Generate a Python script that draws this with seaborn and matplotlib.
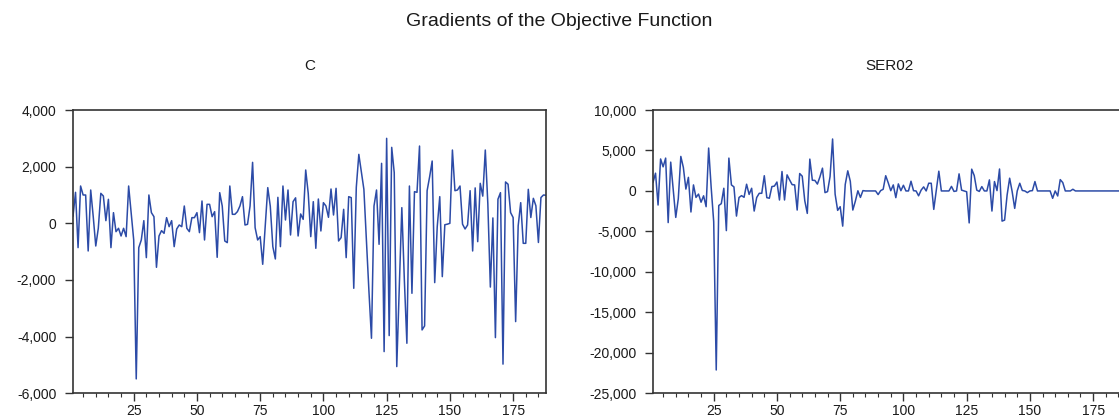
import matplotlib
matplotlib.use("Agg")
import numpy as np
import pandas as pd
import seaborn as sns
import matplotlib.pyplot as plt
from matplotlib.ticker import FixedLocator, FuncFormatter

# ---------------- data ----------------
obs = list(range(1, 189))

grad_c = [
    250, 1094, -858, 1317, 1000, 1000, -976, 1176, 235, -800,
    -176, 1058, 964, 94, 847, -858, 376, -294, -176, -447,
    -176, -470, 1317, 353, -588, -5492, -858, -588, 94, -1211,
    1000, 376, 235, -1552, -447, -259, -353, 200, -118, 94,
    -823, -200, -59, -118, 611, -176, -294, 200, 200, 376,
    -329, 788, -588, 670, 670, 235, 412, -1200, 1082, 611,
    -623, -682, 1317, 318, 318, 412, 611, 941, -59, -35,
    611, 2152, -153, -588, -470, -1446, -100, 1260, 600, -823,
    -1258, 917, -823, 1317, 118, 1176, -412, 764, 900, -447,
    330, 140, 1882, 1058, -470, 764, -882, 858, -270, 729,
    611, 212, 1211, 294, 1235, -623, -505, 494, -1211, 941,
    906, -2293, 1270, 2434, 1823, 1200, -600, -2400, -4057, 611,
    1176, -741, 2117, -4528, 3000, -3963, 2681, 1788, -5057, -2300,
    553, -2000, -4234, 1317, -2470, 1117, 1094, 2728, -3763, -3622,
    1152, 1646, 2199, -2093, -118, 941, -1882, -50, -30, 0,
    2587, 1152, 1176, 1317, -30, -200, -59, 1152, -976, 1250,
    -647, 1411, 960, 2587, 700, -2250, 190, -4034, 850, 1082,
    -4970, 1460, 1380, 380, 205, -3469, -90, 729, -706, -706,
    1200, 205, 882, 620, -676, 910, 1000, 990,
]

grad_ser02 = [
    1050, 2194, -1739, 3950, 2980, 4057, -3910, 3560, 124, -3270,
    -950, 4264, 2900, 230, 1680, -2600, 745, -800, -390, -1390,
    -600, -1946, 5299, 430, -3808, -22120, -1800, -1570, 331, -4900,
    4057, 745, 500, -3105, -808, -580, -787, 828, -430, 331,
    -2484, -808, -290, -290, 1880, -828, -900, 538, 600, 1100,
    -1118, 2401, -1118, 1987, 1366, 780, 745, -2360, 2150, 1820,
    -1200, -2774, 3933, 1320, 1300, 850, 1740, 2815, -207, -83,
    1780, 6417, -400, -2400, -1946, -4347, 800, 2484, 1200, -2360,
    -1260, 20, -800, 40, 0, 0, 0, 0, 0, -450,
    40, 207, 1880, 1000, 30, 745, -828, 869, 30, 700,
    0, 0, 1200, 30, 0, -600, 100, 500, 0, 952,
    952, -2277, 124, 2440, 0, 0, 0, 0, 560, -60,
    0, 2111, 100, 0, -100, -3950, 2691, 1900, 100, -60,
    538, 0, 0, 1366, -2484, 1159, 40, 2710, -3726, -3602,
    -500, 1573, -100, -2153, 0, 952, 60, 0, -207, 0,
    40, 1159, 0, 0, 0, 0, 0, 0, -911, 0,
    -621, 1400, 1035, 0, 0, 0, 207, 0, 0, 0,
    0, 0, 0, 0, 0, 0, 0, 0, 0, 0,
    0, 0, 0, 0, 0, 0, 0, 0,
]

panel_titles = ["C", "SER02"]
x_major = [25, 50, 75, 100, 125, 150, 175]
x_minor = [5, 10, 15, 20, 30, 35, 40, 45, 55, 60, 65, 70, 80, 85, 90, 95,
           105, 110, 115, 120, 130, 135, 140, 145, 155, 160, 165, 170, 180, 185]
c_yticks = [-6000, -4000, -2000, 0, 2000, 4000]
ser_yticks = [-25000, -20000, -15000, -10000, -5000, 0, 5000, 10000]
main_title = "Gradients of the Objective Function"

# ---------------- style ----------------
sns.set_theme(style="white")
plt.rcParams["font.family"] = ["Liberation Sans", "DejaVu Sans"]

LINE = "#2c4ba7"
SPINE = "#333333"
TXT = "#1a1a1a"

W, H = 1119, 419
fig = plt.figure(figsize=(W / 100, H / 100), dpi=100)
fig.patch.set_facecolor("white")

ax_top, ax_bot = 110, 393.3
ax_w = 473
axes = [
    fig.add_axes([73 / W, 1 - ax_bot / H, ax_w / W, (ax_bot - ax_top) / H]),
    fig.add_axes([653 / W, 1 - ax_bot / H, ax_w / W, (ax_bot - ax_top) / H]),
]

df = pd.DataFrame({"obs": obs, "C": grad_c, "SER02": grad_ser02})

for ax, col, yt, ttl in zip(axes, ["C", "SER02"], [c_yticks, ser_yticks], panel_titles):
    sns.lineplot(data=df, x="obs", y=col, ax=ax, color=LINE, linewidth=1.1)
    ax.set_xlim(1, 188)
    ax.set_ylim(yt[0], yt[-1])
    ax.xaxis.set_major_locator(FixedLocator(x_major))
    ax.xaxis.set_minor_locator(FixedLocator(x_minor))
    ax.yaxis.set_major_locator(FixedLocator(yt))
    ax.yaxis.set_major_formatter(FuncFormatter(lambda v, p: f"{int(v):,}"))
    ax.set_xlabel("")
    ax.set_ylabel("")
    ax.tick_params(axis="x", which="major", direction="out", length=6, width=1,
                   color=SPINE, labelsize=10, labelcolor=TXT, pad=2, bottom=True)
    ax.tick_params(axis="x", which="minor", direction="out", length=3, width=0.8,
                   color=SPINE, bottom=True)
    ax.tick_params(axis="y", which="major", direction="out", length=6, width=1,
                   color=SPINE, labelsize=10, labelcolor=TXT, pad=6, left=True)
    for s in ax.spines.values():
        s.set_visible(True)
        s.set_color(SPINE)
        s.set_linewidth(1.2)
    ax.grid(False)
    ax.set_title(ttl, fontsize=11, color=TXT, pad=29)

fig.text(0.5, 1 - 21 / H, main_title, ha="center", va="center",
         fontsize=14, color=TXT)

fig.savefig("out.png", dpi=100, facecolor="white")
